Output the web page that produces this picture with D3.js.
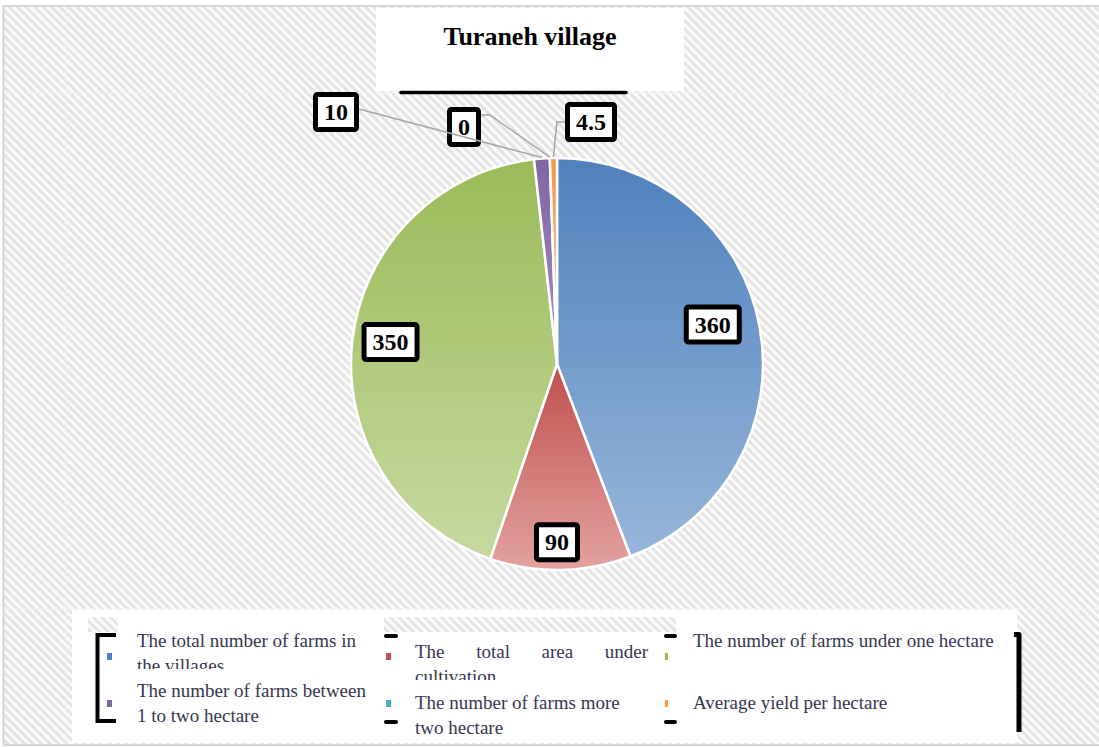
<!DOCTYPE html>
<html>
<head>
<meta charset="utf-8">
<script src="https://cdn.jsdelivr.net/npm/d3@7"></script>
<style>
  body { margin: 0; background: #fff; }
  svg { display: block; }
</style>
</head>
<body>
<script>
let w = 1099;
let h = 747;

// data
const title = "Turaneh village";
const categories = [
  "The total number of farms in the villages",
  "The total area under cultivation",
  "The number of farms under one hectare",
  "The number of farms between 1 to two hectare",
  "The number of farms more two hectare",
  "Average yield per hectare"
];
const values = [360, 90, 350, 10, 0, 4.5];
const valueLabels = ["360", "90", "350", "10", "0", "4.5"];
// legend text as it wraps in the original
const legendLines = [
  ["The total number of farms in", "the villages"],
  ["The total area under", "cultivation"],
  ["The number of farms under one hectare"],
  ["The number of farms between", "1 to two hectare"],
  ["The number of farms more", "two hectare"],
  ["Average yield per hectare"]
];

const colTop = ["#4f81bd", "#c0504d", "#9bbb59", "#8064a2", "#4bacc6", "#f79646"];
const colBottom = ["#98b6d9", "#e3a2a0", "#c6d99f", "#a592c0", "#93cddd", "#fac090"];

const cx = 557, cy = 364, r = 206;
const serif = "'Liberation Serif', 'Times New Roman', serif";

let svg = d3.select("body").append("svg").attr("width", w).attr("height", h);
let defs = svg.append("defs");

// diagonal hatch background
let hatch = defs.append("pattern")
  .attr("id", "hatch")
  .attr("patternUnits", "userSpaceOnUse")
  .attr("width", 6).attr("height", 6)
  .attr("patternTransform", "rotate(-45)");
hatch.append("rect").attr("width", 6).attr("height", 6).attr("fill", "#fbfbfb");
hatch.append("rect").attr("width", 3).attr("height", 6).attr("fill", "#e4e4e4");

svg.append("rect").attr("x", 4).attr("y", 6).attr("width", w - 4).attr("height", h - 8)
  .attr("fill", "url(#hatch)");
// faint tile seams
[66, 1012].forEach(x => svg.append("line").attr("x1", x).attr("x2", x).attr("y1", 7).attr("y2", 745)
  .attr("stroke", "#f4f4f4").attr("stroke-width", 1));
[93, 609].forEach(y => svg.append("line").attr("x1", 4).attr("x2", w).attr("y1", y).attr("y2", y)
  .attr("stroke", "#f4f4f4").attr("stroke-width", 1));
// outer border
svg.append("path").attr("d", "M" + w + ",6 H3.5 V745 H" + w)
  .attr("fill", "none").attr("stroke", "#d6d6d6").attr("stroke-width", 2);

// title box
svg.append("rect").attr("x", 376).attr("y", 8).attr("width", 308).attr("height", 83).attr("fill", "#fff");
svg.append("text")
  .attr("x", 530).attr("y", 45)
  .attr("text-anchor", "middle")
  .attr("font-family", serif).attr("font-weight", "bold").attr("font-size", "26px")
  .attr("fill", "#000")
  .text(title);
svg.append("line").attr("x1", 401).attr("x2", 626).attr("y1", 92.5).attr("y2", 92.5)
  .attr("stroke", "#000").attr("stroke-width", 3.5).attr("stroke-linecap", "round");

// pie
values.forEach((v, i) => {
  let g = defs.append("linearGradient").attr("id", "grad" + i)
    .attr("x1", 0).attr("y1", 0).attr("x2", 0).attr("y2", 1);
  g.append("stop").attr("offset", "0%").attr("stop-color", colTop[i]);
  g.append("stop").attr("offset", "100%").attr("stop-color", colBottom[i]);
});

const pie = d3.pie().sort(null).value(d => d);
const arcs = pie(values);
const arc = d3.arc().innerRadius(0).outerRadius(r);
const edgeArc = d3.arc().innerRadius(r + 1).outerRadius(r + 1);

let pieG = svg.append("g").attr("transform", "translate(" + cx + "," + cy + ")");
pieG.selectAll("path.slice")
  .data(arcs)
  .enter()
  .append("path")
  .attr("class", "slice")
  .attr("d", arc)
  .attr("fill", (d, i) => "url(#grad" + i + ")")
  .attr("stroke", "#fff")
  .attr("stroke-width", 2.5)
  .attr("stroke-linejoin", "round");

// label placement: inside labels by polar position, the thin slices get boxes above the pie
const inside = { 0: [75.8, 0.78], 1: [180, 0.865], 2: [277.5, 0.815] };
const outside = { 3: [-221, -252], 4: [-93, -237], 5: [34, -242] };

function labelCenter(i) {
  if (inside[i]) {
    const a = inside[i][0] * Math.PI / 180, rr = inside[i][1] * r;
    return [cx + rr * Math.sin(a), cy - rr * Math.cos(a)];
  }
  return [cx + outside[i][0], cy + outside[i][1]];
}

let labG = svg.append("g");
let boxes = [];
valueLabels.forEach((t, i) => {
  const c = labelCenter(i);
  let tmp = labG.append("text")
    .attr("font-family", serif).attr("font-weight", "bold").attr("font-size", "24px")
    .text(t);
  const tw = tmp.node().getComputedTextLength();
  tmp.remove();
  const bw = Math.max(tw + 22, 32), bh = 40;
  boxes.push({ i: i, t: t, x: c[0] - bw / 2, y: c[1] - bh / 2, w: bw, h: bh, c: c });
});

// leader lines for the outside labels
const leaderG = svg.append("g");
boxes.filter(b => outside[b.i]).forEach(b => {
  const e = edgeArc.centroid(arcs[b.i]);
  const ex = cx + e[0], ey = cy + e[1];
  let d;
  if (b.i === 3) {
    d = "M" + (b.x + b.w) + "," + (b.c[1] - 3) + " L" + ex + "," + ey;
  } else if (b.c[0] < ex) {
    d = "M" + (b.x + b.w) + "," + (b.y + 8) + " h9 L" + ex + "," + ey;
  } else {
    d = "M" + b.x + "," + b.c[1] + " H" + (ex + 3.5) + " L" + ex + "," + ey;
  }
  leaderG.append("path").attr("d", d)
    .attr("fill", "none").attr("stroke", "#a6a6a6").attr("stroke-width", 1.5);
});

labG.selectAll("rect.lab")
  .data(boxes)
  .enter()
  .append("rect")
  .attr("class", "lab")
  .attr("x", d => d.x + 2.5).attr("y", d => d.y + 2.5)
  .attr("width", d => d.w - 5).attr("height", d => d.h - 5)
  .attr("rx", 2)
  .attr("fill", "#fff").attr("stroke", "#000").attr("stroke-width", 5);
labG.selectAll("text.lab")
  .data(boxes)
  .enter()
  .append("text")
  .attr("class", "lab")
  .attr("x", d => d.c[0]).attr("y", d => d.c[1] + 8)
  .attr("text-anchor", "middle")
  .attr("font-family", serif).attr("font-weight", "bold").attr("font-size", "24px")
  .attr("fill", "#000")
  .text(d => d.t);

// legend
let leg = svg.append("g");
leg.append("rect").attr("x", 72).attr("y", 610).attr("width", 945).attr("height", 133).attr("fill", "#fff");
leg.append("rect").attr("x", 88).attr("y", 617).attr("width", 30).attr("height", 15).attr("fill", "url(#hatch)");
leg.append("rect").attr("x", 384).attr("y", 617).attr("width", 292).attr("height", 15).attr("fill", "url(#hatch)");

const colX = [107, 386, 665];
const textX = [137, 415, 693];
const markW = [5, 5, 3];
const rowMark = [653, 700];
const baseY = [[647, 658, 647], [697, 709, 709]];
const legFont = 19;

categories.forEach((cat, i) => {
  const col = i % 3, row = Math.floor(i / 3);
  const y0 = baseY[row][col];
  const yEnd = row === 0 ? y0 + 25 - 3 : 741;
  defs.append("clipPath").attr("id", "legclip" + i)
    .append("rect").attr("x", textX[col] - 2).attr("y", y0 - 22)
    .attr("width", 330).attr("height", yEnd - (y0 - 22));

  leg.append("rect")
    .attr("x", colX[col]).attr("y", rowMark[row])
    .attr("width", markW[col]).attr("height", 7)
    .attr("fill", colTop[i]);

  let tg = leg.append("g").attr("clip-path", "url(#legclip" + i + ")");
  legendLines[i].forEach((ln, k) => {
    let t = tg.append("text")
      .attr("x", textX[col]).attr("y", y0 + k * 25)
      .attr("font-family", serif).attr("font-size", legFont + "px")
      .attr("fill", "#363650")
      .text(ln);
    // Word justified the first line of the second entry: stretch the word gaps only
    if (i === 1 && k === 0) {
      const nat = t.node().getComputedTextLength();
      const gaps = ln.split(" ").length - 1;
      t.attr("word-spacing", ((233 - nat) / gaps) + "px");
    }
  });
});

// bracket marks around the legend
leg.append("path").attr("d", "M116,635 H97.5 V721 H116")
  .attr("fill", "none").attr("stroke", "#000").attr("stroke-width", 4);
leg.append("path").attr("d", "M1014,634.5 H1019 V732")
  .attr("fill", "none").attr("stroke", "#000").attr("stroke-width", 5).attr("stroke-linejoin", "round");
[[386, 396], [666, 675]].forEach(xx => {
  [636, 722].forEach(y => {
    leg.append("line").attr("x1", xx[0]).attr("x2", xx[1]).attr("y1", y).attr("y2", y)
      .attr("stroke", "#000").attr("stroke-width", 4).attr("stroke-linecap", "round");
  });
});
</script>
</body>
</html>
